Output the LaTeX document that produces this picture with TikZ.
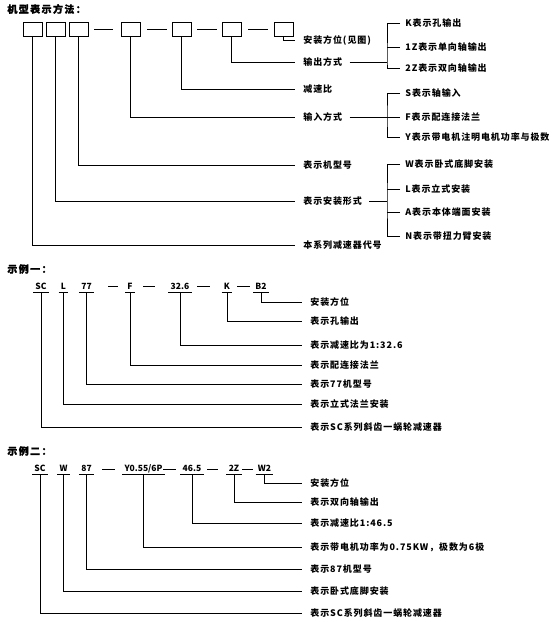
\documentclass[tikz,border=0pt]{standalone}
\usepackage{fontspec}
\newfontfamily\labfont{Noto Sans CJK SC}[LetterSpace=10]
\newfontfamily\titfont{Noto Sans CJK SC}[LetterSpace=14, BoldFeatures={FakeBold=1.2}]
\newfontfamily\codefont{Noto Sans CJK SC}
\begin{document}
\begin{tikzpicture}[x=1pt,y=-1pt,
  every path/.style={line width=0.8pt},
  box/.style={draw, line width=0.8pt, minimum width=19pt, minimum height=14pt, inner sep=0pt},
  lab/.style={anchor=west, inner sep=0pt, font=\labfont\bfseries\fontsize{9}{10}\selectfont},
  code/.style={anchor=south, inner xsep=2pt, inner ysep=1.2pt, text height=6.5pt, text depth=1pt, font=\codefont\bfseries\fontsize{8.5}{10}\selectfont},
  ttl/.style={anchor=west, inner sep=0pt, font=\titfont\bfseries\fontsize{10}{11}\selectfont}]
\useasboundingbox[fill=white] (0,0) rectangle (560,622);

% ---------- Part 1 ----------
\node[ttl] (t1) at (7,9) {机型表示方法：};
\foreach \n/\x in {1/32.5,2/55.5,3/78.5,4/130.5,5/181.5,6/231.5,7/283.5}
  \node[box] (b\n) at (\x,29) {};
\foreach \a/\b in {94/113,147/167,197/217,248/268}
  \draw (\a,29) -- (\b,29);

\node[lab] (l7) at (303,40) {安装方位(见图)};
\node[lab] (l6) at (303,62) {输出方式};
\node[lab] (l5) at (303,89) {减速比};
\node[lab] (l4) at (303,117) {输入方式};
\node[lab] (l3) at (303,165) {表示机型号};
\node[lab] (l2) at (303,201) {表示安装形式};
\node[lab] (l1) at (303,245) {本系列减速器代号};
\foreach \n in {1,...,7}
  \draw (b\n.south) |- ([xshift=-8pt]l\n.west);

% output options
\coordinate (brA) at (387,62);
\node[lab] (oK) at (405,23.5) {K表示孔输出};
\node[lab] (o1Z) at (405,47) {1Z表示单向轴输出};
\node[lab] (o2Z) at (405,68.5) {2Z表示双向轴输出};
\draw ([xshift=-5pt]oK.west) -| (brA) |- ([xshift=-5pt]o2Z.west);
\draw ([xshift=-5pt]o1Z.west) -- (o1Z.west -| brA);
\draw ([xshift=7pt]l6.east) -- (brA);

% input options
\coordinate (brB) at (387,117);
\node[lab] (oS) at (405,93) {S表示轴输入};
\node[lab] (oF) at (405,117) {F表示配连接法兰};
\node[lab] (oY) at (405,137.5) {Y表示带电机注明电机功率与极数};
\draw ([xshift=-5pt]oS.west) -| (brB) |- ([xshift=-5pt]oY.west);
\draw ([xshift=-5pt]oF.west) -- (oF.west -| brB);
\draw ([xshift=7pt]l4.east) -- (brB);

% mounting options
\coordinate (brC) at (387,201);
\node[lab] (oW) at (405,164.5) {W表示卧式底脚安装};
\node[lab] (oL) at (405,189) {L表示立式安装};
\node[lab] (oA) at (405,212) {A表示本体端面安装};
\node[lab] (oN) at (405,236) {N表示带扭力臂安装};
\draw ([xshift=-5pt]oW.west) -| (brC) |- ([xshift=-5pt]oN.west);
\draw ([xshift=-5pt]oL.west) -- (oL.west -| brC);
\draw ([xshift=-5pt]oA.west) -- (oA.west -| brC);
\draw ([xshift=7pt]l2.east) -- (brC);

% ---------- Example 1 ----------
\node[ttl] (t2) at (7,269) {示例一：};
\node[code] (e1a) at (41,292) {SC};
\node[code] (e1b) at (63.5,292) {L};
\node[code] (e1c) at (86.5,292) {77};
\node[code] (e1d) at (130,292) {F};
\node[code] (e1e) at (180,292) {32.6};
\node[code] (e1f) at (227,292) {K};
\node[code] (e1g) at (261,292) {B2};
\foreach \a/\b in {108/118,143/155,197/210,237/250}
  \draw (\a,286) -- (\b,286);
\node[lab] (m1g) at (310,302) {安装方位};
\node[lab] (m1f) at (310,321) {表示孔输出};
\node[lab] (m1e) at (310,345) {表示减速比为1:32.6};
\node[lab] (m1d) at (310,365) {表示配连接法兰};
\node[lab] (m1c) at (310,384) {表示77机型号};
\node[lab] (m1b) at (310,404) {表示立式法兰安装};
\node[lab] (m1a) at (310,427) {表示SC系列斜齿一蜗轮减速器};
\foreach \k in {a,b,c,d,e,f,g}{
  \draw (e1\k.south west) -- (e1\k.south east);
  \draw (e1\k.south) |- ([xshift=-8pt]m1\k.west);
}

% ---------- Example 2 ----------
\node[ttl] (t3) at (7,451) {示例二：};
\node[code] (e2a) at (40,474) {SC};
\node[code] (e2b) at (63.5,474) {W};
\node[code] (e2c) at (86.5,474) {87};
\node[code] (e2d) at (143.5,474) {Y0.55/6P};
\node[code] (e2e) at (192,474) {46.5};
\node[code] (e2f) at (234,474) {2Z};
\node[code] (e2g) at (264.5,474) {W2};
\foreach \a/\b in {102/115,163/176,207/218,242/253}
  \draw (\a,469) -- (\b,469);
\node[lab] (m2g) at (310,483) {安装方位};
\node[lab] (m2f) at (310,502) {表示双向轴输出};
\node[lab] (m2e) at (310,523) {表示减速比1:46.5};
\node[lab] (m2d) at (310,547) {表示带电机功率为0.75KW，极数为6极};
\node[lab] (m2c) at (310,569) {表示87机型号};
\node[lab] (m2b) at (310,591) {表示卧式底脚安装};
\node[lab] (m2a) at (310,613) {表示SC系列斜齿一蜗轮减速器};
\foreach \k in {a,b,c,d,e,f,g}{
  \draw (e2\k.south west) -- (e2\k.south east);
  \draw (e2\k.south) |- ([xshift=-8pt]m2\k.west);
}
\end{tikzpicture}
\end{document}
